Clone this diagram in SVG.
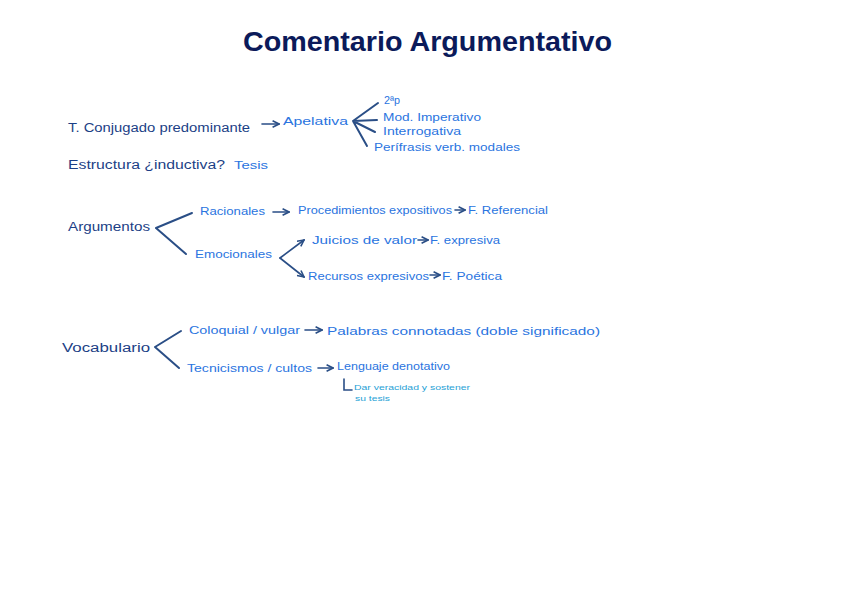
<svg xmlns="http://www.w3.org/2000/svg" width="848" height="599" viewBox="0 0 848 599">
<style>
text{font-family:"Liberation Sans","DejaVu Sans",sans-serif;}
.t{fill:#0b1a5a;font-size:28px;font-weight:bold;}
.d{fill:#1c3f86;font-size:12px;}
.b{fill:#2a74e0;font-size:11px;}
.s{fill:#1fa2d6;font-size:7px;}
.ln{stroke:#2a4e86;stroke-width:2;fill:none;stroke-linecap:round;}
.ar{stroke:#2a4e86;stroke-width:1.6;fill:none;stroke-linecap:round;}
</style>
<defs>
<marker id="ah" viewBox="0 0 10 10" refX="9" refY="5" markerWidth="5" markerHeight="5" orient="auto">
<path d="M1,1 L9,5 L1,9" fill="none" stroke="#2a4e86" stroke-width="2"/>
</marker>
</defs>
<rect width="848" height="599" fill="#ffffff"/>
<g id="title"><text class="t" x="243" y="51" textLength="369" lengthAdjust="spacingAndGlyphs">Comentario  Argumentativo</text></g>

<g id="connectors">
<path class="ar" d="M262,124 L279,124" marker-end="url(#ah)"/>
<path class="ln" d="M353,121 L378,103 M353,121 L377,120 M353,121 L375,132 M353,121 L367,146"/>
<path class="ln" d="M156,228 L192,213 M156,228 L186,254"/>
<path class="ar" d="M273,212 L289,212" marker-end="url(#ah)"/>
<path class="ar" d="M455,210 L465,210" marker-end="url(#ah)"/>
<path class="ar" d="M280,258 L304,240" marker-end="url(#ah)"/>
<path class="ar" d="M280,258 L304,277" marker-end="url(#ah)"/>
<path class="ar" d="M418,240 L428,240" marker-end="url(#ah)"/>
<path class="ar" d="M430,275 L440,275" marker-end="url(#ah)"/>
<path class="ln" d="M155,347 L181,331 M155,347 L179,368"/>
<path class="ar" d="M305,330 L322,330" marker-end="url(#ah)"/>
<path class="ar" d="M318,368 L333,368" marker-end="url(#ah)"/>
<path class="ar" d="M344,379 L344,390 L352,390" stroke="#1c3f86"/>
</g>

<g id="n-conjugado"><text class="d" x="68" y="132" textLength="182" lengthAdjust="spacingAndGlyphs">T. Conjugado predominante</text></g>
<g id="n-apelativa"><text class="b" x="283" y="125" textLength="65" lengthAdjust="spacingAndGlyphs">Apelativa</text></g>
<g id="n-2p"><text class="b" x="384" y="104" textLength="16" lengthAdjust="spacingAndGlyphs">2ªp</text></g>
<g id="n-imperativo"><text class="b" x="383" y="121" textLength="98" lengthAdjust="spacingAndGlyphs">Mod. Imperativo</text></g>
<g id="n-interrogativa"><text class="b" x="383" y="135" textLength="78" lengthAdjust="spacingAndGlyphs">Interrogativa</text></g>
<g id="n-perifrasis"><text class="b" x="374" y="151" textLength="146" lengthAdjust="spacingAndGlyphs">Perífrasis verb. modales</text></g>

<g id="n-estructura"><text class="d" x="68" y="169" textLength="157" lengthAdjust="spacingAndGlyphs">Estructura ¿inductiva?</text>
<text class="b" x="234" y="169" textLength="34" lengthAdjust="spacingAndGlyphs">Tesis</text></g>

<g id="n-argumentos"><text class="d" x="68" y="231" textLength="82" lengthAdjust="spacingAndGlyphs">Argumentos</text></g>
<g id="n-racionales"><text class="b" x="200" y="215" textLength="65" lengthAdjust="spacingAndGlyphs">Racionales</text></g>
<g id="n-procedimientos"><text class="b" x="298" y="214" textLength="154" lengthAdjust="spacingAndGlyphs">Procedimientos expositivos</text></g>
<g id="n-referencial"><text class="b" x="468" y="214" textLength="80" lengthAdjust="spacingAndGlyphs">F. Referencial</text></g>
<g id="n-emocionales"><text class="b" x="195" y="258" textLength="77" lengthAdjust="spacingAndGlyphs">Emocionales</text></g>
<g id="n-juicios"><text class="b" x="312" y="244" textLength="105" lengthAdjust="spacingAndGlyphs">Juicios de valor</text></g>
<g id="n-expresiva"><text class="b" x="430" y="244" textLength="70" lengthAdjust="spacingAndGlyphs">F. expresiva</text></g>
<g id="n-recursos"><text class="b" x="308" y="280" textLength="121" lengthAdjust="spacingAndGlyphs">Recursos expresivos</text></g>
<g id="n-poetica"><text class="b" x="442" y="280" textLength="60" lengthAdjust="spacingAndGlyphs">F. Poética</text></g>

<g id="n-vocabulario"><text class="d" x="62" y="352" textLength="88" lengthAdjust="spacingAndGlyphs">Vocabulario</text></g>
<g id="n-coloquial"><text class="b" x="189" y="334" textLength="111" lengthAdjust="spacingAndGlyphs">Coloquial / vulgar</text></g>
<g id="n-palabras"><text class="b" x="327" y="335" textLength="273" lengthAdjust="spacingAndGlyphs">Palabras connotadas (doble significado)</text></g>
<g id="n-tecnicismos"><text class="b" x="187" y="372" textLength="125" lengthAdjust="spacingAndGlyphs">Tecnicismos / cultos</text></g>
<g id="n-lenguaje"><text class="b" x="337" y="370" textLength="113" lengthAdjust="spacingAndGlyphs">Lenguaje denotativo</text></g>
<g id="n-nota"><text class="s" x="354" y="390" textLength="116" lengthAdjust="spacingAndGlyphs">Dar veracidad y sostener</text>
<text class="s" x="355" y="401" textLength="35" lengthAdjust="spacingAndGlyphs">su tesis</text></g>
</svg>
